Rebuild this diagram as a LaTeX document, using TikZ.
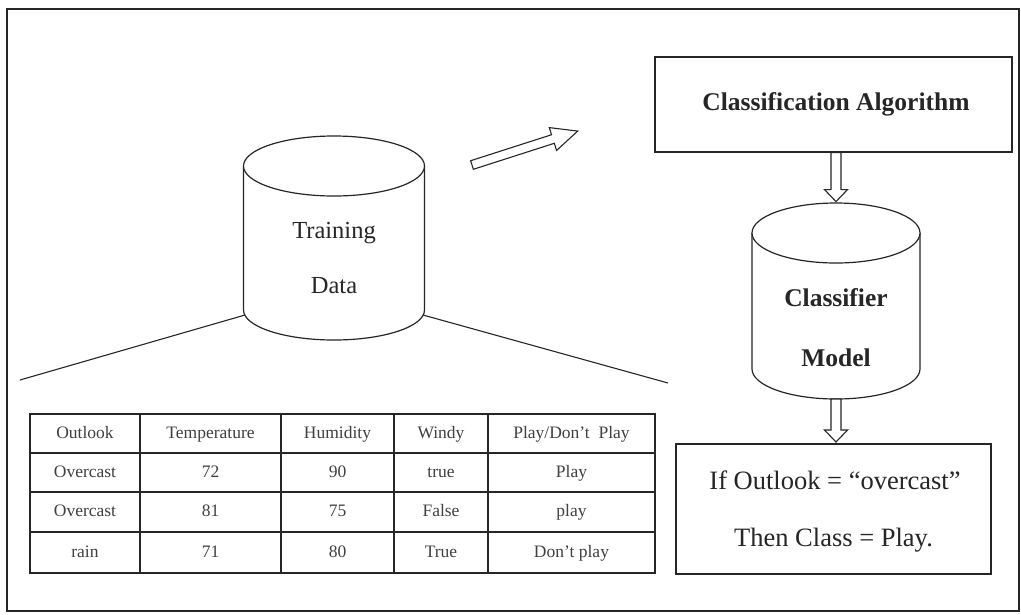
\documentclass[tikz,border=0pt]{standalone}
\usepackage{fontspec}
\setmainfont{Liberation Serif}
\newcommand\hollowarr[6]{% start, angle, length, head length, shaft half width, head half width
  \begin{scope}[shift={#1},rotate=#2]
    \draw[harrow] (0,-#5)--(#3-#4,-#5)--(#3-#4,-#6)--(#3,0)--(#3-#4,#6)--(#3-#4,#5)--(0,#5)--cycle;
  \end{scope}}
\newcommand\cylshape[5]{% cx, y top centre, y bottom centre, rx, ry
  \draw[cyl] (#1-#4,#2) -- (#1-#4,#3) arc[start angle=180,end angle=0,x radius=#4,y radius=#5] -- (#1+#4,#2);
  \draw[cyl] (#1,#2) ellipse[x radius=#4,y radius=#5];}
\begin{document}
\begin{tikzpicture}[x=1pt,y=-1pt,every node/.style={inner sep=0pt}]
\tikzset{
  frame/.style={draw=black!85,line width=1.2pt},
  cyl/.style={draw=black!85,line width=1.2pt,fill=white},
  boxa/.style={draw=black!85,line width=1.2pt},
  plain/.style={font=\fontsize{24.5}{28}\selectfont,text=black!85,text height=0.7em,text depth=0.22em,yshift=-4pt},
  rulet/.style={font=\fontsize{26.5}{30}\selectfont,text=black!85,text height=0.7em,text depth=0.22em,yshift=-4pt},
  boldt/.style={font=\fontsize{25.5}{29}\selectfont\bfseries,text=black!85,text height=0.7em,text depth=0.22em,yshift=-4pt},
  tabtext/.style={font=\fontsize{17.5}{20}\selectfont,text=black!75,text height=0.7em,text depth=0.22em,yshift=-2.5pt},
  tabline/.style={draw=black!85,line width=1.1pt},
  harrow/.style={draw=black!85,line width=1.1pt,fill=white,line join=miter},
  slope/.style={draw=black!85,line width=1.1pt}
}
\useasboundingbox (0,0) rectangle (1021,614);
\fill[white] (0,0) rectangle (1021,614);
\draw[frame] (7,9) rectangle (1019,611);

% Training data cylinder
\cylshape{334}{166}{310}{90.5}{30}
\node[plain] (train1) at (334,232) {Training};
\node[plain] (train2) at (334,287) {Data};
\coordinate (trainL) at (245,315);
\coordinate (trainR) at (423,315);
\coordinate (tabL) at (20,380);
\coordinate (tabR) at (668,383);
\draw[slope] (trainL) -- (tabL);
\draw[slope] (trainR) -- (tabR);

% slanted hollow arrow
\coordinate (sarrow) at (472,165);
\hollowarr{(sarrow)}{17.8}{111}{26}{4.5}{12}

% Classification algorithm box
\node[boxa,minimum width=357,minimum height=95] (algo) at (833.5,104.5) {};
\node[boldt] (algot) at (836,104) {Classification Algorithm};

% Classifier model cylinder
\cylshape{836}{233}{369}{84}{30}
\coordinate (cmTop) at (836,201);
\coordinate (cmBot) at (836,399);
\node[boldt] (model1) at (836,300) {Classifier};
\node[boldt] (model2) at (836,360) {Model};

% Rule box
\node[boxa,minimum width=315,minimum height=130] (rule) at (833.5,509) {};
\node[rulet] (r1) at (835,483) {If Outlook = “overcast”};
\node[rulet] (r2) at (833.5,540) {Then Class = Play.};

% down arrows
\hollowarr{(algo.south -| cmTop)}{-90}{49}{12}{5}{11.5}
\hollowarr{(cmBot)}{-90}{43}{12}{5}{11.5}

% table
\draw[tabline] (30,414) rectangle (655,573);
\foreach \yy in {453,492,532} \draw[tabline] (30,\yy) -- (655,\yy);
\foreach \xx in {140,281,394,488} \draw[tabline] (\xx,414) -- (\xx,573);
\node[tabtext] (c11) at (85,434) {Outlook};
\node[tabtext] (c12) at (210.5,434) {Temperature};
\node[tabtext] (c13) at (337.5,434) {Humidity};
\node[tabtext] (c14) at (441,434) {Windy};
\node[tabtext] (c15) at (571.5,434) {Play/Don’t\ \ Play};
\node[tabtext] (c21) at (85,473) {Overcast};
\node[tabtext] (c22) at (210.5,473) {72};
\node[tabtext] (c23) at (337.5,473) {90};
\node[tabtext] (c24) at (441,473) {true};
\node[tabtext] (c25) at (571.5,473) {Play};
\node[tabtext] (c31) at (85,512) {Overcast};
\node[tabtext] (c32) at (210.5,512) {81};
\node[tabtext] (c33) at (337.5,512) {75};
\node[tabtext] (c34) at (441,512) {False};
\node[tabtext] (c35) at (571.5,512) {play};
\node[tabtext] (c41) at (85,553) {rain};
\node[tabtext] (c42) at (210.5,553) {71};
\node[tabtext] (c43) at (337.5,553) {80};
\node[tabtext] (c44) at (441,553) {True};
\node[tabtext] (c45) at (571.5,553) {Don’t play};
\end{tikzpicture}
\end{document}
